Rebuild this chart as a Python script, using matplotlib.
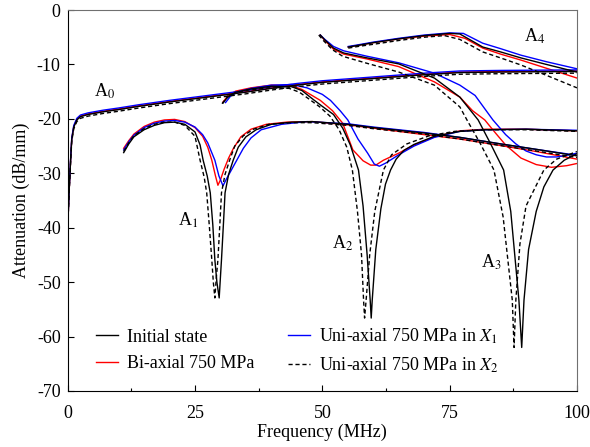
import numpy as np
import matplotlib
matplotlib.use('Agg')
import matplotlib.pyplot as plt
from matplotlib.ticker import MultipleLocator

plt.rcParams['font.family'] = ['Liberation Serif', 'DejaVu Serif']
plt.rcParams['mathtext.fontset'] = 'stix'
plt.rcParams['axes.unicode_minus'] = False

#-- DATI (frequenza MHz, attenuazione dB/mm) letti dal grafico
# stato iniziale (nero pieno)
init_a0 = [(0, -40), (0.3, -33), (0.6, -27.2), (0.8, -23.8), (1.2, -21.5), (1.8, -20.2), (2.5, -19.6), (4, -19.2),
           (7, -18.7), (10, -18.3), (14, -17.7), (20, -16.9), (25, -16.3), (30, -15.7), (35, -15.1),
           (40, -14.4), (45, -13.8), (50, -13.3), (60, -12.6), (70, -11.9), (77, -11.5), (85, -11.4), (100, -11.3)]
init_a1 = [(11, -26.2), (12, -24.6), (13, -23.3), (15, -22.0), (17, -21.2), (19, -20.7), (21, -20.6), (23, -21.0),
           (25, -22.4), (26, -24.8), (26.6, -27.6), (27.4, -30.5), (28, -33.6), (28.5, -39.5), (28.9, -45.9),
           (29.3, -50), (29.75, -52.9), (30.0, -49), (30.2, -45.9), (30.6, -39), (30.9, -33.6), (31.6, -30.2),
           (32.5, -27.6), (33.5, -25.2), (35, -23.3), (37, -22.0), (40, -21.0), (44, -20.6), (48, -20.5),
           (55, -21.0), (60, -21.6), (65, -22.1), (70, -22.6), (77, -23.4), (85, -24.6), (92, -25.6), (100, -26.8)]
init_a2 = [(30.5, -17.1), (31.5, -15.9), (33, -15.1), (36, -14.5), (40, -14.0), (44, -14.1), (46, -14.8),
           (48.3, -16.5), (50, -17.7), (52.2, -19.2), (54, -21.7), (55.5, -24.8), (57.1, -29.4), (58, -36),
           (58.8, -45), (59.4, -53.3), (59.6, -56.6), (59.8, -53.3), (60.5, -44), (61.5, -36.5), (62.4, -32),
           (63.4, -29.4), (64.5, -27.4), (66, -25.8), (68, -24.7), (72, -23.2), (77, -22.3), (82, -22.0),
           (90, -21.9), (100, -22.2)]
init_a3 = [(49.6, -4.6), (50.5, -5.5), (52.2, -7.0), (54.2, -7.9), (58.8, -8.8), (65, -9.9), (72, -12.5),
           (77, -16.0), (80.6, -20.2), (83, -24.5), (85.6, -29.4), (87, -37), (88.6, -53.3), (89.15, -62),
           (89.6, -53.3), (90.5, -44), (92, -37), (93.5, -32.5), (95.3, -29.4), (97.5, -27.6), (100, -26.4)]
init_a4 = [(55.1, -6.8), (57, -6.5), (60, -6.0), (65, -5.3), (70, -4.7), (75, -4.3), (77, -4.4), (78.5, -5.2),
           (81.5, -6.8), (85, -7.7), (89, -8.8), (94, -10.0), (100, -11.4)]

# bi-assiale 750 MPa (rosso)
bi_a0 = [(0, -40), (0.3, -33), (0.6, -27.1), (0.8, -23.7), (1.2, -21.4), (1.8, -20.1), (2.5, -19.5), (4, -19.1),
         (7, -18.6), (10, -18.2), (14, -17.6), (20, -16.8), (25, -16.2), (30, -15.6), (35, -15.0),
         (40, -14.3), (45, -13.7), (50, -13.2), (60, -12.5), (70, -11.8), (77, -11.4), (85, -11.3), (100, -11.2)]
bi_a1 = [(11, -25.4), (12, -24.0), (13, -22.8), (15, -21.4), (17, -20.6), (19, -20.2), (21, -20.1), (23, -20.5),
         (25, -21.6), (26.5, -23.2), (27.5, -25.2), (28.3, -27.6), (29, -30.4), (29.5, -32.2), (30.0, -31.2),
         (30.7, -29.3), (31.6, -27.2), (32.5, -25.5), (34, -23.3), (36, -21.9), (39, -21.0), (43, -20.6),
         (48, -20.5), (55, -21.1), (60, -21.7), (65, -22.3), (70, -22.9), (77, -23.7), (85, -24.9),
         (92, -26.0), (100, -27.4)]
bi_a2 = [(30.5, -16.9), (31.5, -15.7), (33, -14.9), (36, -14.3), (40, -13.8), (44, -13.9), (46, -14.6),
         (49.6, -16.6), (52, -18.5), (54, -20.8), (56, -25.7), (58, -27.7), (59.5, -28.5), (60.5, -28.5),
         (62, -27.6), (65, -26.3), (68, -24.8), (72, -23.3), (77, -22.2), (82, -21.9), (90, -21.9), (100, -22.2)]
bi_a3 = [(49.6, -4.6), (50.5, -5.6), (52.2, -7.2), (54.2, -8.1), (58.8, -9.0), (65, -10.4), (72, -13.2),
         (77, -16.0), (79.5, -18.5), (81.9, -20.2), (84, -22.6), (86, -24.8), (89, -27.2), (92, -28.4),
         (95, -28.9), (98, -28.6), (100, -28.2)]
bi_a4 = [(55.1, -6.8), (57, -6.5), (60, -6.0), (65, -5.3), (70, -4.8), (75, -4.5), (78, -5.2), (81.5, -7.0),
         (85, -8.1), (89, -9.2), (94, -10.7), (100, -12.5)]

# uni-assiale 750 MPa in X1 (blu)
x1_a0 = [(0, -40), (0.3, -32.8), (0.6, -26.9), (0.8, -23.5), (1.2, -21.2), (1.8, -19.9), (2.5, -19.3), (4, -18.9),
         (7, -18.4), (10, -18.0), (14, -17.4), (20, -16.6), (25, -16.0), (30, -15.4), (35, -14.8),
         (40, -14.1), (45, -13.5), (50, -13.0), (60, -12.3), (70, -11.6), (77, -11.2), (85, -11.1), (100, -11.0)]
x1_a1 = [(11, -25.7), (12, -24.2), (13, -23.0), (15, -21.6), (17, -20.8), (19, -20.4), (21, -20.3), (23, -20.6),
         (25, -21.5), (26.5, -22.9), (27.5, -24.4), (28.9, -27.6), (29.7, -30.5), (30.5, -32.3), (31.2, -31.0),
         (32.2, -29.3), (33.2, -27.6), (34.5, -25.4), (36, -23.5), (38, -22.0), (42, -21.0), (47, -20.5),
         (55, -20.9), (60, -21.5), (65, -22.0), (70, -22.5), (77, -23.4), (85, -24.6), (92, -25.6), (100, -26.7)]
x1_a2 = [(31, -17.0), (32, -15.8), (33.5, -15.0), (36, -14.4), (40, -13.8), (44, -13.7), (47, -14.3),
         (50, -15.5), (51.6, -16.6), (53.5, -18.5), (55, -20.2), (57, -23.7), (58.9, -26.3), (60.2, -28.3),
         (61.2, -28.7), (62.5, -28.1), (65, -26.6), (68, -25.0), (72, -23.4), (77, -22.3), (82, -22.0),
         (90, -21.9), (100, -22.1)]
x1_a3 = [(49.6, -4.6), (50.5, -5.4), (52.2, -6.7), (54.2, -7.5), (58.8, -8.5), (65, -9.7), (72, -11.6),
         (77, -13.8), (80, -15.7), (83.5, -20.2), (86, -22.9), (88, -24.6), (90, -25.9), (92, -26.6),
         (94, -27.0), (96, -27.0), (98, -26.7), (100, -26.3)]
x1_a4 = [(55.1, -6.7), (57, -6.4), (60, -5.9), (65, -5.2), (70, -4.6), (75, -4.2), (77.7, -4.3), (81.5, -6.1),
         (85, -7.1), (89, -8.3), (94, -9.5), (100, -10.8)]

# uni-assiale 750 MPa in X2 (nero tratteggiato)
x2_a0 = [(0, -40), (0.3, -33.3), (0.6, -27.5), (0.8, -24.1), (1.2, -21.8), (1.8, -20.5), (2.5, -19.9), (4, -19.5),
         (7, -19.0), (10, -18.6), (14, -18.0), (20, -17.2), (25, -16.6), (30, -16.0), (35, -15.4),
         (40, -14.7), (45, -14.1), (50, -13.6), (60, -12.9), (70, -12.2), (77, -11.8), (85, -11.7), (100, -11.6)]
x2_a1 = [(11, -26.0), (12, -24.4), (13, -23.1), (15, -21.8), (17, -21.0), (19, -20.6), (21, -20.6), (23, -21.2),
         (25, -23.2), (26, -27.6), (26.8, -30.7), (27.3, -33.6), (27.8, -39.5), (28.3, -45.9), (28.6, -50),
         (28.9, -52.9), (29.2, -49), (29.5, -45.9), (29.9, -39), (30.2, -33.6), (30.9, -30.2), (31.8, -27.6),
         (32.8, -25.0), (34.5, -23.1), (36.5, -21.9), (39.5, -21.0), (44, -20.7), (48, -20.7), (55, -21.2),
         (60, -21.8), (65, -22.3), (70, -22.8), (77, -23.7), (85, -24.9), (92, -25.9), (100, -27.1)]
x2_a2 = [(30.3, -17.2), (31.3, -16.1), (32.8, -15.3), (35.5, -14.7), (39.5, -14.3), (43.5, -14.4),
         (45.5, -15.1), (47.6, -16.5), (49.5, -17.8), (51.5, -19.5), (53.3, -22.0), (54.8, -25.2),
         (55.9, -29.4), (56.9, -37), (57.7, -45), (58.1, -53.3), (58.3, -56.6), (58.6, -53.3), (59.3, -45),
         (60.3, -37), (62.0, -29.4), (63.6, -26.6), (66.6, -24.6), (71, -23.1), (76, -22.3), (82, -22.0),
         (90, -22.0), (100, -22.3)]
x2_a3 = [(49.3, -4.6), (50.2, -5.6), (52, -7.3), (54, -8.5), (58.8, -9.8), (65, -11.4), (72, -13.8),
         (77, -17.8), (78.4, -20.2), (81, -24.5), (83.7, -29.4), (85.5, -38), (87.3, -53.3), (87.65, -62),
         (88.0, -53.3), (88.8, -43), (90, -36), (93.5, -29.4), (96, -27.4), (100, -26.0)]
x2_a4 = [(55.1, -7.0), (57, -6.7), (60, -6.3), (65, -5.6), (70, -5.0), (74, -4.7), (77, -5.4), (81.5, -7.7),
         (85, -8.8), (89, -10.1), (94, -12.0), (100, -14.3)]

series = [
    ('Initial state', 'k', '-', [init_a0, init_a1, init_a2, init_a3, init_a4]),
    ('Bi-axial 750 MPa', 'r', '-', [bi_a0, bi_a1, bi_a2, bi_a3, bi_a4]),
    ('Uni-axial 750 MPa in $X_1$', 'b', '-', [x1_a0, x1_a1, x1_a2, x1_a3, x1_a4]),
    ('Uni-axial 750 MPa in $X_2$', 'k', '--', [x2_a0, x2_a1, x2_a2, x2_a3, x2_a4]),
]

FS = 13

fig = plt.figure(figsize=(5.9, 4.47), dpi=100)
ax = fig.add_axes([0.1147, 0.1253, 0.8632, 0.8523])

# ordine di disegno: rosso e blu sotto, nero sopra
for nome, col, ls, modi in [series[1], series[2], series[0], series[3]]:
    for k, m in enumerate(modi):
        arr = np.array(m).T
        ax.plot(arr[0], arr[1], color=col, ls=ls, lw=1.0,
                dashes=(3, 2) if ls == '--' else (None, None),
                label=nome if k == 0 else None)

ax.set_xlim(0, 100)
ax.set_ylim(-70, 0)
ax.xaxis.set_major_locator(MultipleLocator(25))
ax.xaxis.set_minor_locator(MultipleLocator(12.5))
ax.yaxis.set_major_locator(MultipleLocator(10))
ax.tick_params(direction='in', labelsize=FS, length=4, width=0.8)
ax.tick_params(axis='x', pad=10)
ax.tick_params(axis='y', pad=5)
ax.tick_params(which='minor', direction='in', length=2.5, width=0.8)
ax.set_xlabel('Frequency (MHz)', fontsize=FS, labelpad=1)
ax.set_ylabel('Attenuation (dB/mm)', fontsize=FS, labelpad=5)
for s in ['top', 'right']:
    ax.spines[s].set_color('#707070')

# etichette dei modi
ax.text(7.2, -15.0, 'A$_0$', fontsize=FS, ha='center', va='center')
ax.text(23.6, -38.6, 'A$_1$', fontsize=FS, ha='center', va='center')
ax.text(53.9, -42.8, 'A$_2$', fontsize=FS, ha='center', va='center')
ax.text(83.1, -46.3, 'A$_3$', fontsize=FS, ha='center', va='center')
ax.text(91.6, -4.9, 'A$_4$', fontsize=FS, ha='center', va='center')

h, l = ax.get_legend_handles_labels()
order = [l.index('Initial state'), l.index('Bi-axial 750 MPa'),
         l.index('Uni-axial 750 MPa in $X_1$'), l.index('Uni-axial 750 MPa in $X_2$')]
ax.legend([h[i] for i in order], [l[i] for i in order], ncol=2, frameon=False,
          loc='lower left', bbox_to_anchor=(0.056, 0.042), borderpad=0, borderaxespad=0,
          fontsize=FS, handlelength=1.2, handletextpad=0.48, columnspacing=1.9, labelspacing=0.52)

plt.savefig('out.png', dpi=100)
